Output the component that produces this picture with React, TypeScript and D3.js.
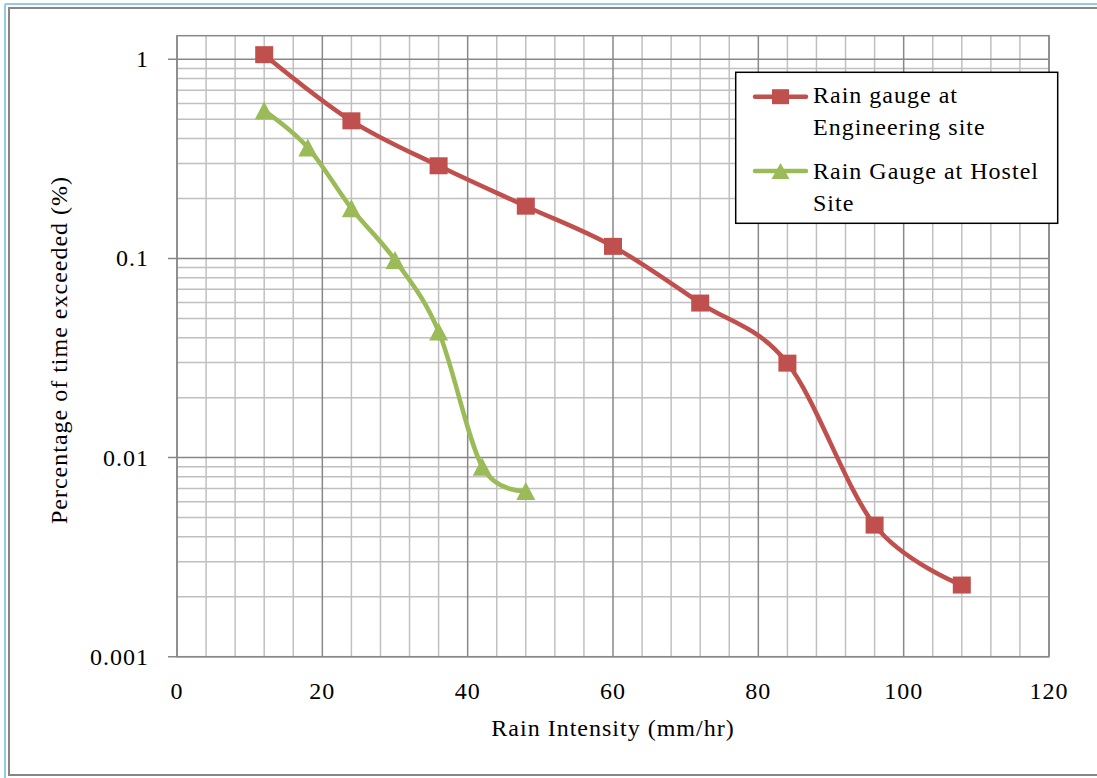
import * as d3 from 'd3';

// Rain intensity (mm/hr)
const engX = [12, 24, 36, 48, 60, 72, 84, 96, 108];
const engY = [1.055, 0.491, 0.292, 0.183, 0.115, 0.0597, 0.0298, 0.00458, 0.00229];

const hostelX = [12, 18, 24, 30, 36, 42, 48];
const hostelY = [0.553, 0.361, 0.1785, 0.0982, 0.043, 0.009, 0.0068];

const xTicks = [0, 20, 40, 60, 80, 100, 120];
const yTicks = [0.001, 0.01, 0.1, 1];
const yTickLabels = ['0.001', '0.01', '0.1', '1'];

const RED = '#C0504D';
const GREEN = '#9BBB59';
const FONT = '"Liberation Serif", "Times New Roman", serif';

export default function App() {
  const width = 1097;
  const height = 778;
  const left = 177;
  const right = 1049;
  const top = 35.7;
  const bottom = 656.7;

  const x = d3.scaleLinear().domain([0, 120]).range([left, right]);
  const y = d3.scaleLog().domain([0.001, 1.314]).range([bottom, top]);

  const vMinor = d3.range(0, 121, 4).filter((v) => v % 20 !== 0);
  const hMinor: number[] = [];
  [0.001, 0.01, 0.1].forEach((d) => {
    for (let k = 2; k <= 9; k++) hMinor.push(k * d);
  });

  const line = d3
    .line<[number, number]>()
    .x((d) => x(d[0]))
    .y((d) => y(d[1]))
    .curve(d3.curveCatmullRom.alpha(0));

  const engPts = engX.map((v, i) => [v, engY[i]] as [number, number]);
  const hostelPts = hostelX.map((v, i) => [v, hostelY[i]] as [number, number]);

  const tri = (cx: number, cy: number, w: number, h: number) =>
    `M${cx},${cy - h / 2}L${cx + w / 2},${cy + h / 2}L${cx - w / 2},${cy + h / 2}Z`;

  const textStyle = { fontFamily: FONT, fontSize: 24, letterSpacing: 1, fill: '#000' } as const;

  return (
    <div style={{ position: 'absolute', left: 0, top: 0 }}>
      <svg width={width} height={height} style={{ display: 'block', background: '#fff' }}>
        {/* frames */}
        <line x1={5} x2={width} y1={4} y2={4} stroke="#92CDDC" strokeWidth={2} />
        <line x1={5} x2={5} y1={4} y2={height} stroke="#92CDDC" strokeWidth={2} />
        <rect x={9} y={8} width={1100} height={767} fill="none" stroke="#868686" strokeWidth={2} />

        {/* minor grid */}
        {vMinor.map((v) => (
          <line key={'vm' + v} x1={x(v)} x2={x(v)} y1={top} y2={bottom} stroke="#C0C0C0" strokeWidth={1.5} />
        ))}
        {hMinor.map((v) => (
          <line key={'hm' + v} x1={left} x2={right} y1={y(v)} y2={y(v)} stroke="#C0C0C0" strokeWidth={1.5} />
        ))}
        {/* major grid */}
        {xTicks.map((v) => (
          <line key={'vM' + v} x1={x(v)} x2={x(v)} y1={top} y2={bottom} stroke="#888" strokeWidth={1.5} />
        ))}
        {yTicks.map((v) => (
          <line key={'hM' + v} x1={left - 9} x2={right} y1={y(v)} y2={y(v)} stroke="#888" strokeWidth={1.5} />
        ))}
        <rect x={left} y={top} width={right - left} height={bottom - top} fill="none" stroke="#888" strokeWidth={1.5} />

        {/* tick labels */}
        {yTicks.map((v, i) => (
          <text key={'yt' + v} x={149} y={y(v) + 8} textAnchor="end" style={textStyle}>
            {yTickLabels[i]}
          </text>
        ))}
        {xTicks.map((v) => (
          <text key={'xt' + v} x={x(v)} y={699} textAnchor="middle" style={textStyle}>
            {v}
          </text>
        ))}

        {/* axis titles */}
        <text x={(left + right) / 2} y={736} textAnchor="middle" style={textStyle}>
          Rain Intensity (mm/hr)
        </text>
        <text transform={`translate(67,350) rotate(-90)`} textAnchor="middle" style={textStyle}>
          Percentage of time exceeded  (%)
        </text>

        {/* series */}
        <path d={line(engPts) ?? ''} fill="none" stroke={RED} strokeWidth={4.5} strokeLinejoin="round" />
        <path d={line(hostelPts) ?? ''} fill="none" stroke={GREEN} strokeWidth={4.5} strokeLinejoin="round" />
        {engPts.map((p) => (
          <rect key={'e' + p[0]} x={x(p[0]) - 9} y={y(p[1]) - 8.5} width={18} height={17} fill={RED} />
        ))}
        {hostelPts.map((p) => (
          <path key={'h' + p[0]} d={tri(x(p[0]), y(p[1]), 19, 18)} fill={GREEN} />
        ))}

        {/* legend */}
        <rect x={735.7} y={72.3} width={322} height={151} fill="#fff" stroke="#000" strokeWidth={1.5} />
        <line x1={755} x2={806} y1={96.7} y2={96.7} stroke={RED} strokeWidth={4.5} strokeLinecap="round" />
        <rect x={772} y={89.2} width={17} height={15} fill={RED} />
        <line x1={755} x2={806} y1={171} y2={171} stroke={GREEN} strokeWidth={4.5} strokeLinecap="round" />
        <path d={tri(780.5, 171, 18, 16)} fill={GREEN} />
        <text x={813} y={103.3} style={textStyle}>Rain gauge at</text>
        <text x={813} y={135} style={textStyle}>Engineering site</text>
        <text x={813} y={179} style={textStyle}>Rain Gauge at Hostel</text>
        <text x={813} y={210.7} style={textStyle}>Site</text>
      </svg>
    </div>
  );
}
